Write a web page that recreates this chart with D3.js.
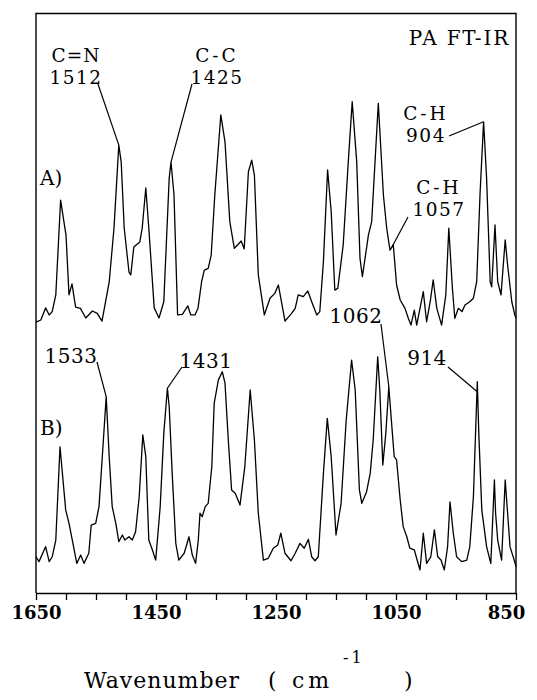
<!DOCTYPE html>
<html><head><meta charset="utf-8">
<script src="https://cdn.jsdelivr.net/npm/d3@7/dist/d3.min.js"></script>
<style>html,body{margin:0;padding:0;background:#fff}svg{display:block}</style>
</head><body>
<svg id="chart" width="537" height="700"></svg>
<script>
// ---- data ----
const wnA = [1650,1642,1634,1628,1623,1617,1609,1600,1595,1590,1584,1576,1567,1556,1548,1540,1528,1520,1512,1508,1503,1495,1492,1487,1477,1473,1467,1462,1453,1445,1437,1428,1425,1420,1414,1406,1397,1392,1385,1380,1374,1369.5,1363,1358,1352,1342,1335,1327,1319.5,1314,1308,1303,1296,1290.5,1286,1279.5,1269.5,1260,1252,1246,1235,1224,1218,1213,1204.5,1197,1190.5,1182,1177,1171,1164,1158,1152,1147,1138,1129.5,1123,1115.5,1110,1106,1096,1090.5,1079.5,1071,1065.5,1060,1054.5,1049,1043,1035,1029.5,1025,1019.5,1015.5,1010,1004.5,999,993,988,982,974,967,962,956,952,946,940,935,927,921,915.5,910,904,899,893,890.5,885,880.5,875,868,864,857,852,850];
const absA = [-0.01,0.0,0.055,0.023,0.038,0.114,0.545,0.386,0.114,0.164,0.059,0.053,0.009,0.041,0.03,-0.005,0.173,0.418,0.795,0.718,0.418,0.218,0.205,0.332,0.355,0.418,0.6,0.418,0.055,0.009,0.083,0.645,0.718,0.568,0.023,0.026,0.064,0.023,0.023,0.053,0.174,0.227,0.235,0.295,0.568,0.932,0.81,0.447,0.326,0.341,0.359,0.323,0.674,0.727,0.659,0.205,0.023,0.099,0.121,0.159,-0.005,0.03,0.053,0.114,0.106,0.132,0.083,0.023,0.038,0.265,0.682,0.492,0.136,0.144,0.341,0.72,0.992,0.72,0.28,0.197,0.386,0.447,0.985,0.568,0.417,0.318,0.341,0.159,0.091,0.053,0.008,-0.023,0.045,-0.023,0.053,0.129,-0.008,0.083,0.182,0.053,-0.023,0.114,0.417,0.144,0.008,0.053,0.038,0.068,0.083,0.099,0.174,0.568,0.901,0.644,0.174,0.151,0.432,0.174,0.114,0.364,0.25,0.083,0.023,0.01];
const wnB = [1650,1645,1634,1628,1623,1617,1610,1600.5,1595,1589.5,1582,1575.5,1570,1562,1558,1550.5,1545,1539.5,1533,1528,1523,1517,1512,1506,1502,1495,1489.5,1484,1478,1472,1467,1462,1456,1450.5,1443,1437,1431,1428,1423,1417,1412,1403,1395,1389.5,1384,1379.5,1376.7,1373,1368,1363,1357,1353,1346,1339.5,1335,1329.5,1324,1318,1310,1302,1293,1286,1279.5,1271,1263,1254.5,1247,1242,1235,1225,1218,1210,1203,1196,1190.5,1185,1179.5,1171,1164.5,1158,1150,1141.5,1133,1124,1118,1111,1107,1099,1093,1088,1080.5,1077,1072,1067,1062,1056,1053,1049,1043,1038,1032,1027,1019.5,1010,1004.5,999,992,986,980.5,975,969.5,964,960,954.5,949,940.5,932,927,921,914.5,912,907,899,892,886,884,880.5,874,868,864,860,853,850];
const absB = [0.051,0.029,0.097,0.029,0.051,0.127,0.551,0.264,0.203,0.127,0.021,0.059,0.021,0.067,0.195,0.203,0.279,0.506,0.779,0.506,0.279,0.203,0.12,0.15,0.127,0.142,0.127,0.165,0.324,0.605,0.506,0.127,0.082,0.036,0.279,0.612,0.817,0.733,0.43,0.112,0.036,0.067,0.142,0.059,0.021,0.127,0.249,0.233,0.279,0.294,0.46,0.749,0.855,0.892,0.84,0.582,0.355,0.34,0.286,0.46,0.809,0.582,0.249,0.036,0.044,0.09,0.105,0.158,0.067,0.033,0.067,0.112,0.09,0.13,0.051,0.033,0.051,0.43,0.68,0.506,0.15,0.294,0.673,0.945,0.809,0.355,0.294,0.347,0.43,0.582,0.96,0.809,0.468,0.612,0.824,0.612,0.506,0.491,0.309,0.188,0.142,0.09,0.082,-0.009,0.158,0.021,0.051,0.173,0.051,0.036,-0.009,0.097,0.301,0.158,0.051,0.029,0.036,0.097,0.324,0.847,0.612,0.264,0.097,0.021,0.4,0.249,0.127,0.036,0.4,0.249,0.097,0.036,0.006];
const tickValuesX = [1650,1600,1550,1500,1450,1400,1350,1300,1250,1200,1150,1100,1050,1000,950,900,850];
const tickLabelsX = [1650,1450,1250,1050,850];
const peaksA = [1512,1425,904,1057];
const peakTopA = ["C=N","C-C","C-H","C-H"];
const peakLabA = ["1512","1425","904","1057"];
const peaksB = [1533,1431,1062,914];
const peakLabB = ["1533","1431","1062","914"];
const panelNames = ["A)","B)"];
const titleText = "PA FT-IR";

// ---- drawing ----
const svg = d3.select("#chart");
const FONT = "'DejaVu Serif', serif";
const plotL = 36, plotR = 516, plotT = 13.5, plotB = 593;
const x = d3.scaleLinear().domain([1650, 850]).range([plotL, plotR]);
const yA = d3.scaleLinear().domain([0, 1]).range([320, 100]);
const yB = d3.scaleLinear().domain([0, 1]).range([568, 348]);

const dataA = wnA.map((w, i) => ({w, v: absA[i]}));
const dataB = wnB.map((w, i) => ({w, v: absB[i]}));
function valAt(data, w) {
  for (let i = 0; i < data.length - 1; i++) {
    const a = data[i], b = data[i + 1];
    if (w <= a.w && w >= b.w) return a.v + (b.v - a.v) * (a.w - w) / (a.w - b.w);
  }
  return 0;
}

// frame
svg.append("path")
  .attr("d", `M${plotL},${plotB}V${plotT}H${plotR}V${plotB}`)
  .attr("fill", "none").attr("stroke", "#000").attr("stroke-width", 1.4);

// x axis
const axis = d3.axisBottom(x).tickValues(tickValuesX).tickSize(7).tickSizeOuter(0)
  .tickFormat(d => tickLabelsX.includes(d) ? String(d) : "");
const gx = svg.append("g").attr("transform", `translate(0,${plotB})`).call(axis);
gx.select(".domain").attr("stroke-width", 1.4);
gx.selectAll(".tick line").attr("stroke-width", 1.3);
gx.selectAll(".tick text")
  .attr("y", 26).attr("dy", 0)
  .attr("dx", d => d === 850 ? -10 : 0)
  .attr("font-family", FONT).attr("font-size", 18).attr("font-weight", "bold")
  .attr("fill", "#000");

// spectra
const line = (ys) => d3.line().x(d => x(d.w)).y(d => ys(d.v));
svg.append("path").datum(dataA).attr("d", line(yA))
  .attr("fill", "none").attr("stroke", "#000").attr("stroke-width", 1.3).attr("stroke-linejoin", "round");
svg.append("path").datum(dataB).attr("d", line(yB))
  .attr("fill", "none").attr("stroke", "#000").attr("stroke-width", 1.3).attr("stroke-linejoin", "round");

// text helper
function txt(s, tx, ty, opts = {}) {
  return svg.append("text").attr("x", tx).attr("y", ty)
    .attr("font-family", FONT).attr("font-size", opts.size || 20)
    .attr("text-anchor", opts.anchor || "middle")
    .attr("letter-spacing", opts.ls || 0)
    .attr("fill", "#000").text(s);
}
function leader(x0, y0, x1, y1) {
  svg.append("line").attr("x1", x0).attr("y1", y0).attr("x2", x1).attr("y2", y1)
    .attr("stroke", "#000").attr("stroke-width", 1.2);
}

// title & panel names
txt(titleText, 510, 45, {anchor: "end", ls: 1.8});
txt(panelNames[0], 40, 185, {anchor: "start"});
txt(panelNames[1], 40, 435, {anchor: "start"});

// annotation layout (label centre, baselines, leader start)
const layA = [
  {cx: 76, b1: 61.5, b2: 83.5, lx: 98, ly: 84},
  {cx: 217, b1: 61.5, b2: 83.5, lx: 192, ly: 84},
  {cx: 426, b1: 120, b2: 142, lx: 449, ly: 136},
  {cx: 439, b1: 193.5, b2: 215.5, lx: 408, ly: 217}
];
peaksA.forEach((p, i) => {
  const L = layA[i];
  const hy = peakTopA[i].includes("-");
  txt(peakTopA[i], L.cx, L.b1, {size: 18.5, ls: hy ? 3 : 1});
  txt(peakLabA[i], L.cx, L.b2, {size: 18.5, ls: 1.5});
  leader(L.lx, L.ly, x(p), yA(valAt(dataA, p)));
});
const layB = [
  {cx: 71, b: 362.5, lx: 97, ly: 362},
  {cx: 206, b: 368, lx: 182, ly: 367},
  {cx: 356, b: 323, lx: 381, ly: 324},
  {cx: 427, b: 365, lx: 448, ly: 367}
];
peaksB.forEach((p, i) => {
  const L = layB[i];
  txt(peakLabB[i], L.cx, L.b, {ls: 0.5});
  leader(L.lx, L.ly, x(p), yB(valAt(dataB, p)));
});

// axis title
const t = svg.append("text").attr("font-family", FONT).attr("font-size", 22).attr("fill", "#000");
t.append("tspan").attr("x", 84).attr("y", 688).attr("letter-spacing", 1).text("Wavenumber");
t.append("tspan").attr("x", 268).attr("y", 688).text("(");
t.append("tspan").attr("x", 292).attr("y", 688).attr("letter-spacing", 4).text("cm");
t.append("tspan").attr("x", 343).attr("y", 663).attr("font-size", 16).attr("letter-spacing", 3).text("-1");
t.append("tspan").attr("x", 404).attr("y", 688).text(")");
</script>
</body></html>
